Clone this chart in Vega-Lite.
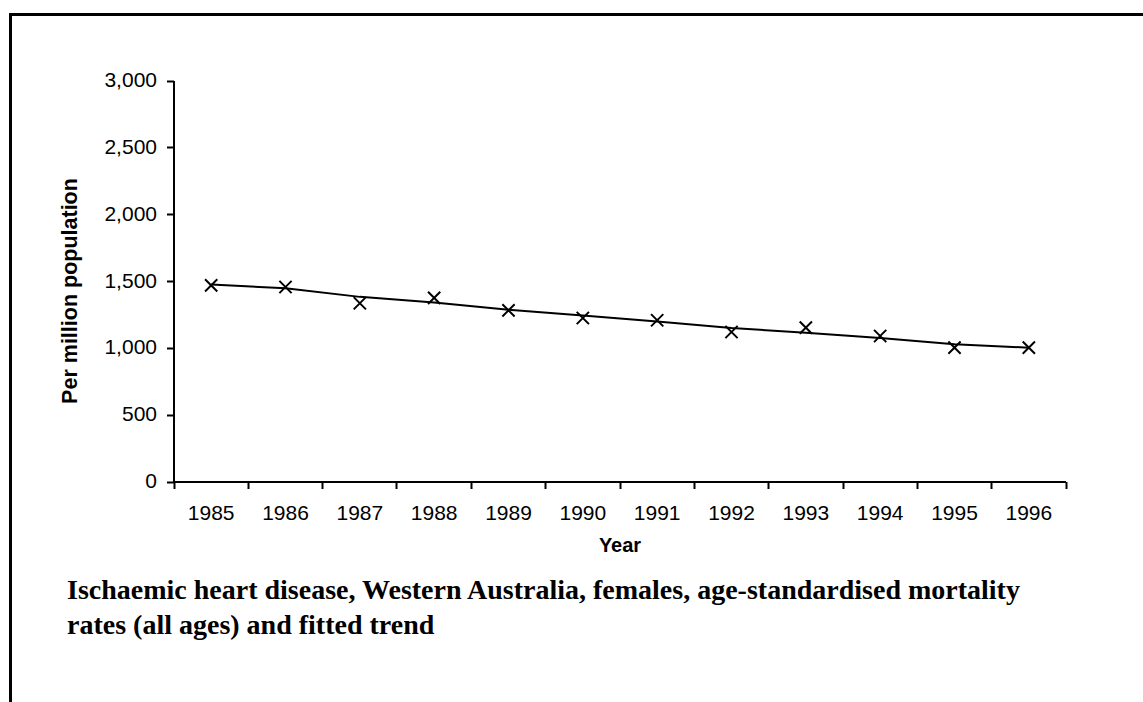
{
  "$schema": "https://vega.github.io/schema/vega-lite/v6.json",
  "autosize": "none",
  "padding": {"left": 10.5, "top": 14.5, "right": 0, "bottom": 0},
  "width": 1133,
  "height": 688,
  "background": "white",
  "config": {
    "view": {"stroke": "black", "strokeWidth": 3, "strokeDash": [1133, 1821, 700], "fill": "white"},
    "axis": {"grid": false, "domainColor": "black", "tickColor": "black", "domainWidth": 2, "tickWidth": 2, "labelColor": "black", "titleColor": "black", "labelFont": "Liberation Sans", "titleFont": "Liberation Sans", "translate": 0}
  },
  "title": {
    "text": ["Ischaemic heart disease, Western Australia, females, age-standardised mortality", "rates (all ages) and fitted trend"],
    "orient": "top",
    "anchor": "start",
    "frame": "group",
    "baseline": "top",
    "font": "Liberation Serif",
    "fontWeight": "bold",
    "fontSize": 28,
    "lineHeight": 35,
    "color": "black",
    "offset": 0,
    "dx": 56.5,
    "dy": 625
  },
  "data": {
    "values": [
      {"year": "1985", "rate": 1471, "trend": 1478},
      {"year": "1986", "rate": 1459, "trend": 1449},
      {"year": "1987", "rate": 1337, "trend": 1385},
      {"year": "1988", "rate": 1378, "trend": 1342},
      {"year": "1989", "rate": 1284, "trend": 1289},
      {"year": "1990", "rate": 1227, "trend": 1245},
      {"year": "1991", "rate": 1210, "trend": 1200},
      {"year": "1992", "rate": 1122, "trend": 1152},
      {"year": "1993", "rate": 1155, "trend": 1117},
      {"year": "1994", "rate": 1092, "trend": 1077},
      {"year": "1995", "rate": 1005, "trend": 1030},
      {"year": "1996", "rate": 1005, "trend": 1005}
    ]
  },
  "encoding": {
    "x": {
      "field": "year",
      "type": "ordinal",
      "scale": {"type": "band", "paddingInner": 0, "paddingOuter": 0, "range": [163.5, 1055.5]},
      "axis": {
        "title": "Year",
        "titleFontSize": 20,
        "titleFontWeight": "bold",
        "titlePadding": 12,
        "labelFontSize": 21,
        "labelAngle": 0,
        "labelPadding": 14,
        "tickSize": 7,
        "tickBand": "extent",
        "offset": -220.5
      }
    }
  },
  "layer": [
    {
      "mark": {"type": "line", "color": "black", "strokeWidth": 2},
      "encoding": {
        "y": {
          "field": "trend",
          "type": "quantitative",
          "scale": {"domain": [0, 3000], "range": [467.5, 66.5], "nice": false},
          "axis": {
            "title": "Per million population",
            "titleFontSize": 21.5,
            "titleFontWeight": "bold",
            "titlePadding": 22,
            "titleY": 276.5,
            "labelFontSize": 21,
            "labelPadding": 10,
            "tickSize": 7,
            "values": [0, 500, 1000, 1500, 2000, 2500, 3000],
            "format": ",.0f",
            "offset": -163.5
          }
        }
      }
    },
    {
      "mark": {"type": "point", "shape": "M-1,-1L1,1M-1,1L1,-1", "size": 150, "filled": false, "color": "black", "strokeWidth": 2, "opacity": 1},
      "encoding": {
        "y": {"field": "rate", "type": "quantitative"}
      }
    }
  ]
}
